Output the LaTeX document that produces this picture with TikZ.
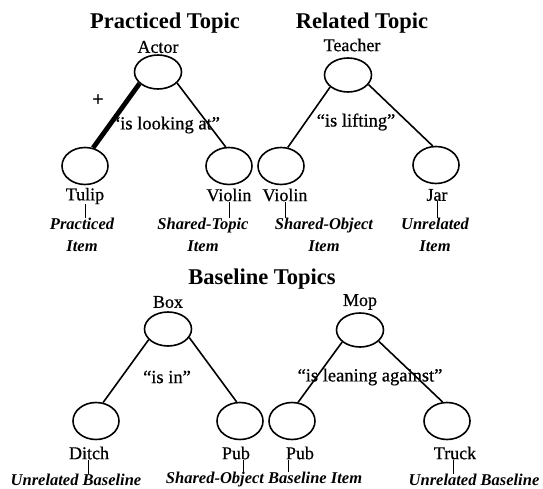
\documentclass[tikz,border=0pt]{standalone}
\usepackage{fontspec}
\setmainfont{Liberation Serif}
\newfontfamily\heavyserif[FakeBold=0.6]{Liberation Serif}
\usetikzlibrary{shapes.geometric}
\begin{document}
\begin{tikzpicture}[x=1pt,y=-1pt,
  every node/.style={inner sep=0pt},
  headnode/.style={ellipse,draw,line width=1.6pt,minimum width=47pt,minimum height=34pt},
  leafnode/.style={ellipse,draw,line width=1.6pt,minimum width=46pt,minimum height=37pt},
  heading/.style={font=\fontsize{22.5}{24}\selectfont\bfseries},
  lbl/.style={font=\fontsize{18}{20}\selectfont\heavyserif},
  rellbl/.style={font=\fontsize{18.5}{20}\selectfont\heavyserif},
  desc/.style={font=\fontsize{16.5}{22}\selectfont\bfseries\itshape,align=center},
  link/.style={line width=1.6pt},
  strong/.style={line width=4.8pt},
  tick/.style={line width=1pt}
]
\useasboundingbox (0,0) rectangle (543,489);

% ---------- Practiced Topic ----------
\node[heading] (t1) at (165,23) {Practiced Topic};
\node[lbl] (actorL) at (158,47) {Actor};
\node[headnode] (actor) at (158,72) {};
\node[leafnode] (tulip) at (85,166) {};
\node[leafnode] (violinA) at (229,166) {};
\draw[strong] (actor.212) -- (tulip.66);
\draw[link] (actor.330) -- (violinA.100);
\node[font=\fontsize{21}{22}\selectfont\bfseries] (plus) at (98,101) {+};
\node[rellbl] (r1) at (166,125) {“is looking at”};
\node[lbl] (tulipL) at (85,196) {Tulip};
\node[lbl] (violinAL) at (229,195) {Violin};
\node[desc] (tulipD) at (82,235) {Practiced\\Item};
\node[desc] (violinAD) at (203,235) {Shared-Topic\\Item};
\draw[tick] (tulipL.south) -- (tulipL.south |- tulipD.north);
\draw[tick] (violinAL.south) -- (violinAL.south |- violinAD.north);

% ---------- Related Topic ----------
\node[heading] (t2) at (362,23) {Related Topic};
\node[lbl] (teacherL) at (352,45) {Teacher};
\node[headnode] (teacher) at (348,75) {};
\node[leafnode] (violinB) at (281,166) {};
\node[leafnode] (jar) at (436,165) {};
\draw[link] (teacher.214) -- (violinB.70);
\draw[link] (teacher.335) -- (jar.100);
\node[rellbl] (r2) at (356,122) {“is lifting”};
\node[lbl] (violinBL) at (285,195) {Violin};
\node[lbl] (jarL) at (437,195) {Jar};
\node[desc] (violinBD) at (324,235) {Shared-Object\\Item};
\node[desc] (jarD) at (435,235) {Unrelated\\Item};
\draw[tick] (violinBL.south) -- (violinBL.south |- violinBD.north);
\draw[tick] (jarL.south) -- (jarL.south |- jarD.north);

% ---------- Baseline Topics ----------
\node[heading] (t3) at (262,279) {Baseline Topics};

\node[lbl] (boxL) at (168,302) {Box};
\node[headnode] (box) at (168,329) {};
\node[leafnode] (ditch) at (96,421) {};
\node[leafnode] (pubA) at (240,421) {};
\draw[link] (box.209) -- (ditch.69);
\draw[link] (box.338) -- (pubA.100);
\node[rellbl] (r3) at (167,377) {“is in”};
\node[lbl] (ditchL) at (89,453) {Ditch};
\node[lbl] (pubAL) at (236,453) {Pub};

\node[lbl] (mopL) at (360,302) {Mop};
\node[headnode] (mop) at (360,330) {};
\node[leafnode] (pubB) at (292,421) {};
\node[leafnode] (truck) at (447,421) {};
\draw[link] (mop.214) -- (pubB.72);
\draw[link] (mop.329) -- (truck.103);
\node[rellbl] (r4) at (370,377) {“is leaning against”};
\node[lbl] (pubBL) at (300,453) {Pub};
\node[lbl] (truckL) at (455,453) {Truck};

\node[desc] (ditchD) at (76,480) {Unrelated Baseline};
\node[desc] (sharedD) at (264,480) {Shared-Object Baseline Item};
\node[desc] (truckD) at (474,480) {Unrelated Baseline};
\draw[tick] ([xshift=-1pt]ditchL.south) -- ([xshift=-1pt]ditchL.south |- ditchD.north);
\draw[tick] ([xshift=7pt]pubAL.south) -- ([xshift=7pt]pubAL.south |- sharedD.north);
\draw[tick] ([xshift=-12pt]pubBL.south) -- ([xshift=-12pt]pubBL.south |- sharedD.north);
\draw[tick] ([xshift=-2pt]truckL.south) -- ([xshift=-2pt]truckL.south |- truckD.north);
\end{tikzpicture}
\end{document}
